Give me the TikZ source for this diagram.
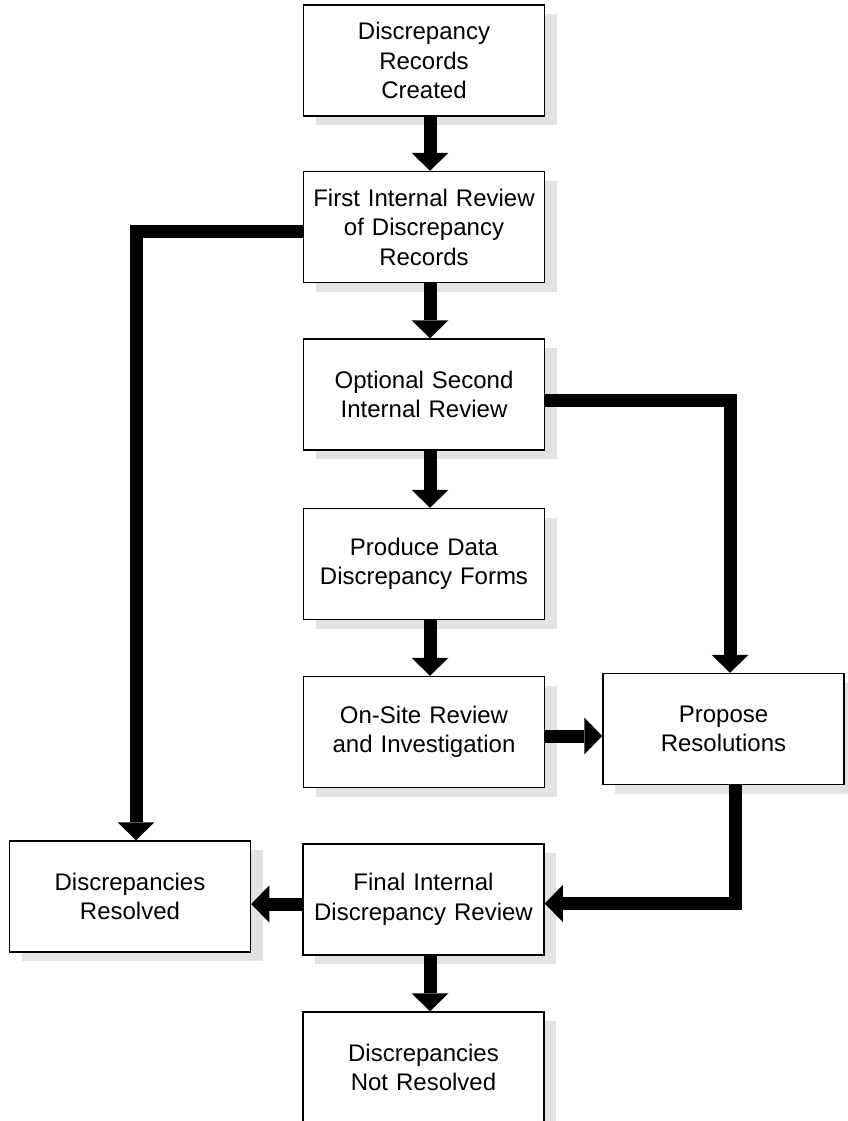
\documentclass[tikz,border=0pt]{standalone}
\usepackage{fontspec}
\setmainfont{Liberation Sans}
\usetikzlibrary{arrows.meta,shadows}
\definecolor{shadowgray}{HTML}{E3E3E3}
\begin{document}
\begin{tikzpicture}[x=1pt,y=-1pt,
  box/.style={draw, line width=1.5pt, fill=white,
    minimum width=241pt, minimum height=111pt, inner sep=0pt,
    align=center, text width=238pt,
    font=\fontsize{24pt}{29.5pt}\selectfont,
    drop shadow={shadow xshift=12pt, shadow yshift=-9pt,
      fill=shadowgray, opacity=1, draw=none}},
  flow/.style={line width=13pt,
    -{Triangle[width=37pt,length=18pt,line width=0pt]}}]

% page frame
\useasboundingbox (0,0) rectangle (848,1121);
\clip (0,0) rectangle (848,1121);
\fill[white] (0,0) rectangle (848,1121);

% process steps
\node[box] (b1)     at (424,60.5)    {Discrepancy\\Records\\Created};
\node[box] (b2)     at (424,227)     {First Internal Review\\of Discrepancy\\Records};
\node[box] (b3)     at (424,394.5)   {Optional Second\\Internal Review};
\node[box] (b4)     at (424,564)     {Produce Data\\Discrepancy Forms};
\node[box] (b5)     at (424,732)     {On-Site Review\\and Investigation};
\node[box] (prop)   at (723.5,729)   {Propose\\Resolutions};
\node[box] (res)    at (130,896.5)   {Discrepancies\\Resolved};
\node[box] (final)  at (423.5,899.5) {Final Internal\\Discrepancy Review};
\node[box] (notres) at (423.5,1067.5){Discrepancies\\Not Resolved};

% connector anchor points
\coordinate (r2) at ([yshift=-4.5pt]b2.west);
\coordinate (r3) at ([yshift=-5.5pt]b3.east);
\coordinate (r5) at ([yshift=-4pt]b5.east);
\coordinate (pd) at ([xshift=12pt]prop.south);
\coordinate (fe) at ([yshift=-4pt]final.east);
\coordinate (fw) at ([yshift=-4.5pt]final.west);

% main flow
\draw[flow] ([xshift=6pt]b1.south) -- ([xshift=6pt]b2.north);
\draw[flow] ([xshift=6pt]b2.south) -- ([xshift=6pt]b3.north);
\draw[flow] ([xshift=6pt]b3.south) -- ([xshift=6pt]b4.north);
\draw[flow] ([xshift=6pt]b4.south) -- ([xshift=6pt]b5.north);
\draw[flow] ([xshift=6.5pt]final.south) -- ([xshift=6.5pt]notres.north);

% branches
\draw[flow] (r2) -| ([xshift=6pt]res.north);
\draw[flow] (r3) -| ([xshift=6.5pt]prop.north);
\draw[flow] (r5) -- (r5 -| prop.west);
\draw[flow] (pd) |- (fe);
\draw[flow] (fw) -- (fw -| res.east);
\end{tikzpicture}
\end{document}
